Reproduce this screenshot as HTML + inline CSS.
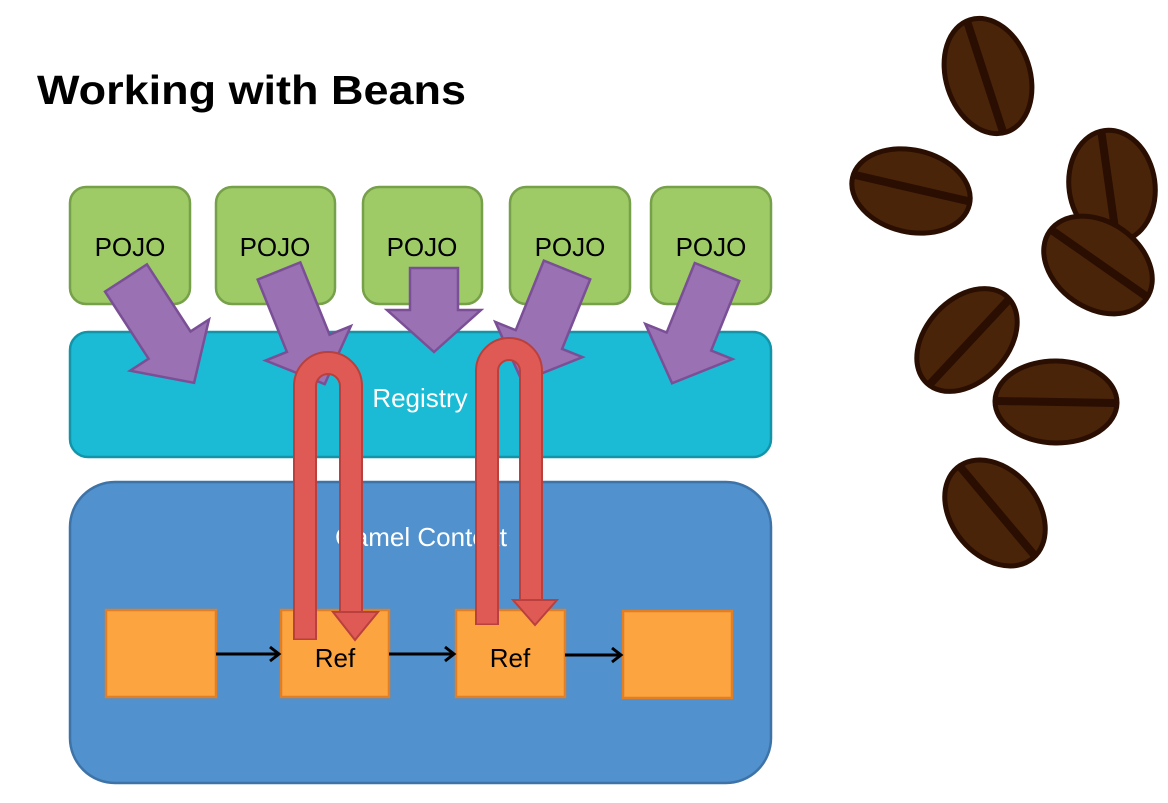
<!DOCTYPE html>
<html><head><meta charset="utf-8"><style>
html,body{margin:0;padding:0;background:#fff;width:1168px;height:803px;overflow:hidden}
svg{display:block}
</style></head><body>
<svg width="1168" height="803" viewBox="0 0 1168 803" xmlns="http://www.w3.org/2000/svg" font-family="Liberation Sans, Arial, sans-serif">
<text x="37" y="104" font-size="41" font-weight="bold" fill="#000" textLength="429" lengthAdjust="spacingAndGlyphs">Working with Beans</text>

<!-- POJO boxes -->
<g fill="#9ECB66" stroke="#77A04A" stroke-width="2.5">
<rect x="70" y="187" width="120" height="117" rx="16"/>
<rect x="216" y="187" width="119" height="117" rx="16"/>
<rect x="363" y="187" width="119" height="117" rx="16"/>
<rect x="510" y="187" width="120" height="117" rx="16"/>
<rect x="651" y="187" width="120" height="117" rx="16"/>
</g>
<g font-size="26" fill="#000" text-anchor="middle">
<text x="130" y="256">POJO</text>
<text x="275" y="256">POJO</text>
<text x="422" y="256">POJO</text>
<text x="570" y="256">POJO</text>
<text x="711" y="256">POJO</text>
</g>

<!-- Registry -->
<rect x="70" y="332" width="701" height="125" rx="18" fill="#1BBBD6" stroke="#1494A8" stroke-width="2.5"/>
<text x="420" y="407" font-size="26" fill="#fff" text-anchor="middle">Registry</text>

<!-- Camel Context -->
<rect x="70" y="482" width="701" height="301" rx="45" fill="#5191CD" stroke="#3E73A8" stroke-width="2.5"/>
<text x="421" y="546" font-size="26" fill="#fff" text-anchor="middle">Camel Context</text>

<!-- purple arrows -->
<g fill="#9A71B3" stroke="#7A4F96" stroke-width="2.5">
<polygon transform="translate(126,278) rotate(57)" points="0,-25 80,-25 80,-47 125,0 80,47 80,25 0,25"/>
<polygon transform="translate(279,271) rotate(68)" points="0,-23 78,-23 78,-46 122,0 78,46 78,23 0,23"/>
<polygon transform="translate(434,268) rotate(90)" points="0,-24 42,-24 42,-47 84,0 42,47 42,24 0,24"/>
<polygon transform="translate(567,270) rotate(112)" points="0,-25 75,-25 75,-47 120,0 75,47 75,25 0,25"/>
<polygon transform="translate(717,272) rotate(112)" points="0,-24 75,-24 75,-47 120,0 75,47 75,24 0,24"/>
</g>

<!-- orange boxes -->
<g fill="#FCA43F" stroke="#E07F26" stroke-width="2.5">
<rect x="106" y="610" width="110" height="87"/>
<rect x="281" y="610" width="108" height="87"/>
<rect x="456" y="610" width="109" height="87"/>
<rect x="623" y="611" width="109" height="87"/>
</g>
<g font-size="26" fill="#000" text-anchor="middle">
<text x="335" y="667">Ref</text>
<text x="510" y="667">Ref</text>
</g>
<!-- black connectors -->
<g stroke="#000" stroke-width="3" fill="none">
<line x1="216" y1="654" x2="279" y2="654"/>
<polyline points="270,647 279,654 270,661"/>
<line x1="389" y1="654" x2="454" y2="654"/>
<polyline points="445,647 454,654 445,661"/>
<line x1="565" y1="655" x2="621" y2="655"/>
<polyline points="612,648 621,655 612,662"/>
</g>

<!-- red U arrows -->
<g fill="none">
<path d="M305,640 V386 A23 23 0 0 1 351 386 V612" stroke="#B9403C" stroke-width="24"/>
<path d="M305,638.5 V386 A23 23 0 0 1 351 386 V614" stroke="#E05A55" stroke-width="20"/>
<path d="M487,625 V371 A22 22 0 0 1 531 371 V600" stroke="#B9403C" stroke-width="24"/>
<path d="M487,623.5 V371 A22 22 0 0 1 531 371 V602" stroke="#E05A55" stroke-width="20"/>
</g>
<g fill="#E05A55" stroke="#B9403C" stroke-width="2">
<polygon points="333,612 378,612 355,640"/>
<polygon points="513,600 557,600 535,625"/>
</g>

<!-- coffee beans -->
<g stroke="#2A0E02" stroke-width="5" fill="#4A2409">
<g transform="translate(988,76) rotate(72)"><ellipse rx="59" ry="42"/><line x1="-57" y1="3" x2="57" y2="3" stroke-width="8"/></g>
<g transform="translate(911,191) rotate(13)"><ellipse rx="60" ry="41"/><line x1="-58" y1="-3" x2="58" y2="-3" stroke-width="8"/></g>
<g transform="translate(1112,186) rotate(82)"><ellipse rx="56" ry="43"/><line x1="-54" y1="3" x2="54" y2="3" stroke-width="8"/></g>
<g transform="translate(1098,265) rotate(35)"><ellipse rx="59" ry="43"/><line x1="-57" y1="-2" x2="57" y2="-2" stroke-width="8"/></g>
<g transform="translate(967,340) rotate(-47)"><ellipse rx="59" ry="41"/><line x1="-57" y1="3" x2="57" y2="3" stroke-width="8"/></g>
<g transform="translate(1056,402) rotate(1)"><ellipse rx="61" ry="41"/><line x1="-59" y1="0" x2="59" y2="0" stroke-width="8"/></g>
<g transform="translate(995,513) rotate(50)"><ellipse rx="59" ry="43"/><line x1="-57" y1="-3" x2="57" y2="-3" stroke-width="8"/></g>
</g>
</svg>
</body></html>
